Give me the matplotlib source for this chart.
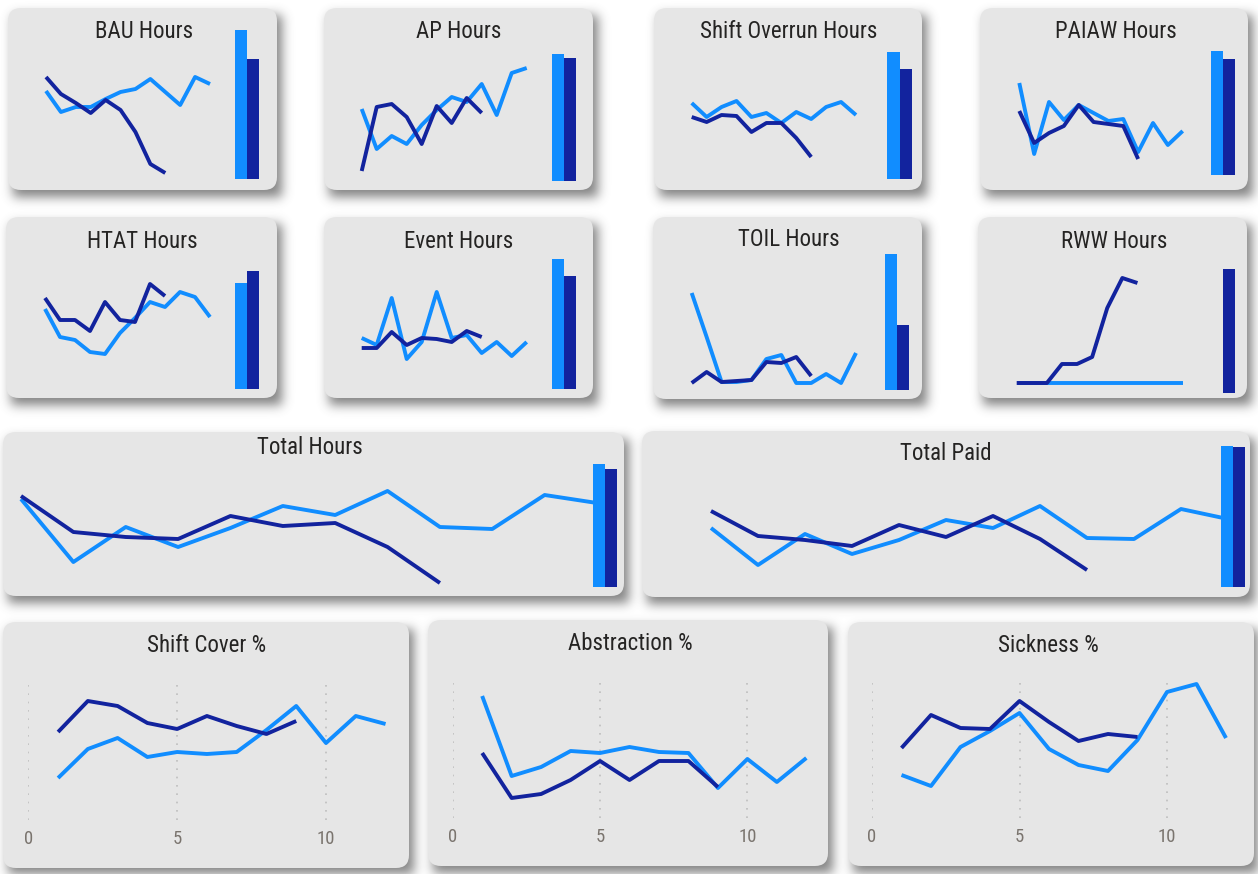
import numpy as np
import matplotlib
matplotlib.use("Agg")
import matplotlib.pyplot as plt
from matplotlib.patches import FancyBboxPatch
from matplotlib import font_manager

# ---------------------------------------------------------------- data
# Monthly values: previous year (12 months) and current year (9 months so far)
bau_prev = [89, 68, 73, 73, 81, 88, 91, 101, 88, 75, 103, 96]
bau_curr = [103, 86, 77, 67, 80, 70, 48, 16, 7]
bau_totals = [149, 120]

ap_prev = [71, 31, 44, 36, 55, 70, 83, 78, 96, 65, 107, 112]
ap_curr = [9, 73, 76, 63, 36, 74, 57, 82, 67]
ap_totals = [127, 123]

overrun_prev = [77, 63, 73, 79, 63, 67, 57, 68, 61, 73, 78, 65]
overrun_curr = [63, 58, 65, 64, 48, 57, 57, 42, 23]
overrun_totals = [127, 110]

paiaw_prev = [97, 26, 78, 60, 75, 67, 59, 61, 28, 57, 35, 49]
paiaw_curr = [69, 37, 47, 54, 75, 58, 56, 54, 21]
paiaw_totals = [124, 116]

htat_prev = [74, 46, 43, 31, 29, 50, 65, 81, 76, 91, 86, 66]
htat_curr = [85, 63, 63, 52, 81, 63, 61, 99, 87]
htat_totals = [106, 118]

event_prev = [45, 38, 85, 24, 41, 91, 45, 48, 30, 41, 27, 41]
event_curr = [35, 35, 51, 38, 45, 44, 41, 52, 46]
event_totals = [130, 113]

toil_prev = [90, 46, 1, 1, 3, 24, 28, 0, 0, 9, 0, 30]
toil_curr = [0, 11, 1, 2, 3, 21, 20, 26, 7]
toil_totals = [136, 65]

rww_prev = [0, 0, 0, 0, 0, 0, 0, 0, 0, 0, 0, 0]
rww_curr = [0, 0, 0, 19, 19, 26, 75, 105, 100]
rww_totals = [0, 124]

total_hours_prev = [91, 28, 63, 43, 62, 84, 75, 99, 63, 61, 95, 87]
total_hours_curr = [94, 58, 53, 51, 74, 64, 67, 43, 7]
total_hours_totals = [123, 118]

total_paid_prev = [62, 25, 56, 36, 50, 70, 62, 84, 52, 51, 81, 71]
total_paid_curr = [79, 54, 50, 44, 65, 53, 74, 51, 20]
total_paid_totals = [141, 140]

shift_cover_prev = [42, 71, 82, 63, 68, 66, 68, 90, 114, 77, 104, 96]
shift_cover_curr = [88, 119, 114, 97, 91, 104, 94, 86, 99]

abstraction_prev = [122, 42, 51, 67, 65, 71, 66, 65, 30, 59, 36, 60]
abstraction_curr = [65, 20, 24, 38, 57, 38, 57, 57, 31]

sickness_prev = [43, 32, 71, 87, 105, 69, 53, 47, 78, 126, 134, 80]
sickness_curr = [70, 103, 90, 89, 117, 96, 77, 84, 81]

axis_ticks = [0, 5, 10]

# ---------------------------------------------------------------- style
W, H = 1258, 874
LIGHT = "#118DFF"
DARK = "#12239E"
CARD = "#E6E6E6"
TITLE_COLOR = "#252423"
TICK_COLOR = "#7A746E"
LW = 2.8


def pick_font(candidates):
    names = {f.name for f in font_manager.fontManager.ttflist}
    for c in candidates:
        if c in names:
            return c
    return "DejaVu Sans"


FONT = pick_font(["Liberation Sans Narrow", "Roboto Condensed",
                  "Open Sans Condensed", "Roboto", "Liberation Sans"])
plt.rcParams["font.family"] = [FONT, "DejaVu Sans"]

fig = plt.figure(figsize=(W / 100, H / 100), dpi=100)
fig.patch.set_facecolor("white")


def rect(x0, x1, ytop, ybot):
    return [x0 / W, 1 - ybot / H, (x1 - x0) / W, (ybot - ytop) / H]


# sparkline cards: title, card box, title centre, line span, line base,
# bar span, bar base, series
spark_cards = [
    ("BAU Hours", (8, 8, 277, 190), (144, 31), (46, 210), 180,
     (235, 259), 179, bau_prev, bau_curr, bau_totals),
    ("AP Hours", (324, 8, 593, 190), (459, 31), (361.7, 526.7), 180,
     (551.7, 575.7), 180.7, ap_prev, ap_curr, ap_totals),
    ("Shift Overrun Hours", (654, 8, 922, 190), (789, 31), (691.7, 856), 180,
     (887.3, 912.3), 179, overrun_prev, overrun_curr, overrun_totals),
    ("PAIAW Hours", (980, 8, 1248, 190), (1116, 31), (1019.3, 1182.7), 180,
     (1210.7, 1235), 175, paiaw_prev, paiaw_curr, paiaw_totals),
    ("HTAT Hours", (6, 217, 277, 398), (142, 241), (45, 210), 383,
     (235, 259.3), 389.3, htat_prev, htat_curr, htat_totals),
    ("Event Hours", (324, 217, 593, 398), (459, 241), (361.7, 526.7), 383,
     (551.7, 575.7), 389.3, event_prev, event_curr, event_totals),
    ("TOIL Hours", (653, 217, 922, 399), (789, 240), (691.7, 856), 383,
     (885, 909.3), 390, toil_prev, toil_curr, toil_totals),
    ("RWW Hours", (978, 217, 1247, 398), (1114.5, 241), (1016.7, 1182.7), 383,
     (1210.4, 1235), 393.3, rww_prev, rww_curr, rww_totals),
    ("Total Hours", (3, 432, 624, 596), (310, 448), (21, 597), 590,
     (592.7, 617), 586.7, total_hours_prev, total_hours_curr, total_hours_totals),
    ("Total Paid", (642, 431, 1250, 597), (945.5, 454), (711, 1228), 590,
     (1221.4, 1245), 586.7, total_paid_prev, total_paid_curr, total_paid_totals),
]

# axis cards: title, card box, title centre, x of zero, px per unit, plot top/bottom
axis_cards = [
    ("Shift Cover %", (3, 622, 409, 868), (206.7, 645), 28.3, 29.77, (682, 820),
     shift_cover_prev, shift_cover_curr),
    ("Abstraction %", (428, 620, 828, 866), (630, 643), 452.7, 29.47, (681, 818),
     abstraction_prev, abstraction_curr),
    ("Sickness %", (848, 622, 1254, 866), (1048, 645), 872, 29.5, (681, 818),
     sickness_prev, sickness_curr),
]

all_boxes = [c[1] for c in spark_cards] + [c[1] for c in axis_cards]

# ---------------------------------------------------------------- card shadows
mask = np.zeros((H, W))
dx, dy = 5, 7
for (x0, y0, x1, y1) in all_boxes:
    mask[int(y0 + dy):int(y1 + dy), int(x0 + dx):int(x1 + dx)] = 1.0


def blur(a, sigma):
    r = int(3 * sigma)
    k = np.exp(-0.5 * (np.arange(-r, r + 1) / sigma) ** 2)
    k /= k.sum()
    p = np.pad(a, ((0, 0), (r, r)))
    out = np.zeros_like(a)
    for i, w in enumerate(k):
        out += w * p[:, i:i + a.shape[1]]
    p = np.pad(out, ((r, r), (0, 0)))
    out2 = np.zeros_like(a)
    for i, w in enumerate(k):
        out2 += w * p[i:i + a.shape[0], :]
    return out2


shadow = blur(mask, 5.5)
rgba = np.zeros((H, W, 4))
rgba[..., :3] = 0.3
rgba[..., 3] = shadow * 0.7

bg = fig.add_axes([0, 0, 1, 1])
bg.set_xlim(0, W)
bg.set_ylim(H, 0)
bg.axis("off")
bg.imshow(rgba, extent=(0, W, H, 0), interpolation="bilinear", zorder=0)

for (x0, y0, x1, y1) in all_boxes:
    bg.add_patch(FancyBboxPatch((x0, y0), x1 - x0, y1 - y0,
                                boxstyle="round,pad=0,rounding_size=13",
                                fc=CARD, ec="none", zorder=1))

# ---------------------------------------------------------------- sparkline cards
SPAN = 150
for (title, box, tpos, xspan, lbase, bspan, bbase, prev, curr, totals) in spark_cards:
    bg.text(tpos[0], tpos[1], title, ha="center", va="center",
            fontsize=16.5, color=TITLE_COLOR, zorder=2)

    ax = fig.add_axes(rect(xspan[0], xspan[1], lbase - SPAN, lbase))
    ax.set_xlim(1, 12)
    ax.set_ylim(0, SPAN)
    ax.axis("off")
    ax.plot(np.arange(1, len(prev) + 1), prev, color=LIGHT, lw=LW,
            solid_joinstyle="round", solid_capstyle="butt", clip_on=False)
    ax.plot(np.arange(1, len(curr) + 1), curr, color=DARK, lw=LW,
            solid_joinstyle="round", solid_capstyle="butt", clip_on=False)

    bx = fig.add_axes(rect(bspan[0], bspan[1], bbase - SPAN, bbase))
    bx.set_xlim(-0.5, 1.5)
    bx.set_ylim(0, SPAN)
    bx.axis("off")
    bx.bar([0, 1], totals, width=1.0, color=[LIGHT, DARK])

# ---------------------------------------------------------------- axis cards
for (title, box, tpos, x_zero, unit, (ytop, ybot), prev, curr) in axis_cards:
    bg.text(tpos[0], tpos[1], title, ha="center", va="center",
            fontsize=16.5, color=TITLE_COLOR, zorder=2)

    ax = fig.add_axes(rect(x_zero, x_zero + 12 * unit, ytop, ybot))
    ax.patch.set_alpha(0)
    ax.set_xlim(0, 12)
    ax.set_ylim(0, ybot - ytop)
    for s in ax.spines.values():
        s.set_visible(False)
    ax.set_yticks([])
    ax.set_xticks(axis_ticks)
    ax.set_xticklabels([str(t) for t in axis_ticks])
    ax.tick_params(axis="x", length=0, pad=7, labelsize=13.5, labelcolor=TICK_COLOR)
    ax.grid(axis="x", color="#BEBEBE", linestyle=(0, (1, 4)), lw=1.2)
    ax.set_axisbelow(True)
    ax.plot(np.arange(1, len(prev) + 1), prev, color=LIGHT, lw=LW,
            solid_joinstyle="round", solid_capstyle="butt", clip_on=False)
    ax.plot(np.arange(1, len(curr) + 1), curr, color=DARK, lw=LW,
            solid_joinstyle="round", solid_capstyle="butt", clip_on=False)

fig.savefig("out.png", dpi=100, facecolor="white")
